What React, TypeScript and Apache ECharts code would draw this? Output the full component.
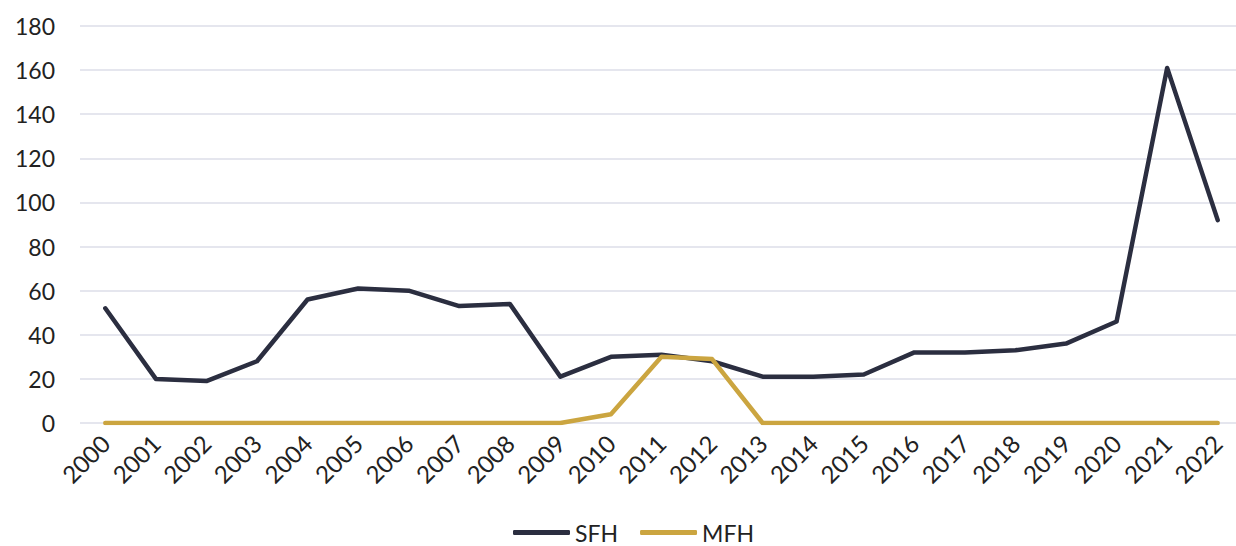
import React, { useEffect, useRef } from "react";
import * as echarts from "echarts";

const years = ["2000","2001","2002","2003","2004","2005","2006","2007","2008","2009","2010","2011","2012","2013","2014","2015","2016","2017","2018","2019","2020","2021","2022"];
const sfh = [52, 20, 19, 28, 56, 61, 60, 53, 54, 21, 30, 31, 28, 21, 21, 22, 32, 32, 33, 36, 46, 161, 92];
const mfh = [0, 0, 0, 0, 0, 0, 0, 0, 0, 0, 4, 30, 29, 0, 0, 0, 0, 0, 0, 0, 0, 0, 0];

export default function App() {
  const ref = useRef<HTMLDivElement>(null);
  useEffect(() => {
    const chart = echarts.init(ref.current!, undefined, { renderer: "svg" });
    const font = "Lato";
    chart.setOption({
      animation: false,
      grid: { left: 80, right: 0, top: 26, bottom: 123, containLabel: false },
      legend: {
        top: 521,
        left: 513,
        padding: 0,
        icon: "roundRect",
        itemWidth: 57,
        itemHeight: 5,
        itemGap: 22,
        textStyle: { fontFamily: font, fontSize: 23, color: "#222" },
        data: ["SFH", "MFH"],
      },
      xAxis: {
        type: "category",
        data: years,
        boundaryGap: true,
        axisLine: { show: false },
        axisTick: { show: false },
        axisLabel: { rotate: 45, fontFamily: font, fontSize: 24, color: "#222", margin: 16 },
      },
      yAxis: {
        type: "value",
        min: 0,
        max: 180,
        interval: 20,
        axisLine: { show: false },
        axisTick: { show: false },
        axisLabel: { fontFamily: font, fontSize: 23, color: "#222", margin: 25 },
        splitLine: { lineStyle: { color: "#dcdee8", width: 1.5 } },
      },
      series: [
        {
          name: "SFH",
          type: "line",
          data: sfh,
          symbol: "none",
          lineStyle: { color: "#2b2e40", width: 4.5, cap: "round", join: "round" },
          itemStyle: { color: "#2b2e40" },
        },
        {
          name: "MFH",
          type: "line",
          data: mfh,
          symbol: "none",
          lineStyle: { color: "#cba540", width: 4.5, cap: "round", join: "round" },
          itemStyle: { color: "#cba540" },
        },
      ],
    });
    return () => chart.dispose();
  }, []);
  return <div ref={ref} style={{ position: "fixed", left: 0, top: 0, width: 1243, height: 546, background: "#fff" }} />;
}
